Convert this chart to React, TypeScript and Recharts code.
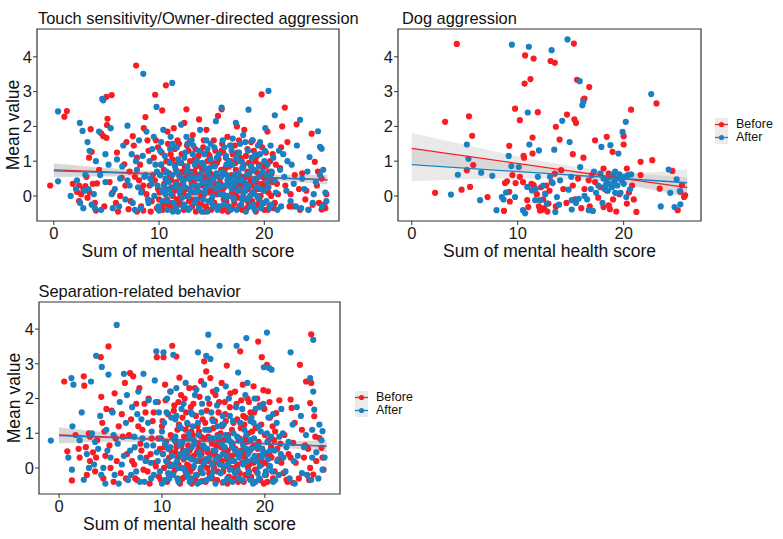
import React from "react";
import {
  Area,
  ComposedChart,
  Label,
  ReferenceArea,
  Scatter,
  XAxis,
  YAxis,
} from "recharts";

const FONT = "'Liberation Sans', Arial, sans-serif";
const RED = "#fb1b22";
const BLUE = "#1a80c2";
const BAND = "#9a9a9a";
const INK = "#1a1a1a";

const xTicks = [0, 10, 20];
const yTicks = [0, 1, 2, 3, 4];
const bandX = [0, 5, 10, 15, 20, 26];
const fitX = [0, 26];

type Pt = [number, number];

// ---- Touch sensitivity / Owner-directed aggression ----
const touchBefore: Pt[] = [
  [-0.35, 0.3], [1.0, 2.28], [1.24, 2.44], [1.8, 0.35], [2.2, 0.12], [2.4, 0.3], [2.6, 0.05], [2.8, 0.2],
  [3.0, 0.28], [3.2, -0.05], [3.4, 0.1], [3.35, 1.1], [3.5, 1.92], [3.6, 1.27], [3.9, -0.2], [4.0, -0.42],
  [4.1, 0.36], [4.5, 1.8], [4.7, 1.72], [5.0, 1.67], [5.0, 2.85], [5.5, 2.9], [5.05, 2.04], [5.1, 2.22],
  [5.6, 0.1], [5.9, -0.2], [6.1, -0.45], [6.45, 0.52], [6.7, 0.91], [6.9, 1.55], [7.1, -0.38], [7.2, 0.7],
  [7.5, 1.72], [7.6, 1.45], [7.82, 3.75], [7.9, 1.1], [8.1, 0.45], [8.3, -0.3], [8.55, 1.95], [8.7, 2.27],
  [8.5, 0.3], [8.5, -0.42], [8.8, 0.05], [9.0, 1.3], [9.2, -0.45], [9.4, 0.6], [9.63, 2.91], [9.7, 1.6],
  [9.9, 0.2], [10.0, -0.1], [10.3, 2.46], [10.2, 0.9], [10.5, 0.35], [10.65, 3.18], [10.8, 1.85], [10.9, -0.3],
  [11.0, 0.55], [11.1, 1.2], [11.3, 0.0], [11.4, 1.95], [11.5, -0.42], [11.6, 0.75], [11.8, 0.3], [11.9, 1.5],
  [12.0, -0.2], [12.1, 0.95], [12.3, 0.1], [12.4, 2.1], [12.5, 0.5], [12.6, 2.49], [12.7, -0.38], [12.8, 1.3],
  [12.9, 0.2], [13.0, 0.7], [13.1, -0.1], [13.2, 1.75], [13.3, 0.4], [13.4, 1.05], [13.5, -0.45], [13.6, 0.15],
  [13.7, 0.6], [13.8, 2.2], [13.9, 0.9], [14.0, -0.25], [14.1, 0.3], [14.2, 1.4], [14.3, 0.05], [14.4, 0.75],
  [14.5, 1.9], [14.6, -0.4], [14.7, 0.45], [14.8, 1.15], [14.9, 0.2], [15.0, -0.1], [15.1, 0.6], [15.2, 1.6],
  [15.3, 0.35], [15.4, -0.3], [15.5, 0.95], [15.6, 2.3], [15.7, 0.1], [15.8, 0.5], [15.95, 2.49], [16.0, -0.42],
  [16.1, 1.25], [16.2, 0.25], [16.3, 0.8], [16.4, -0.15], [16.5, 1.7], [16.6, 0.4], [16.7, 0.0], [16.8, 1.0],
  [16.9, 0.6], [17.0, -0.35], [17.1, 0.2], [17.2, 1.45], [17.3, 0.75], [17.4, 2.0], [17.5, -0.05], [17.6, 0.5],
  [17.7, 1.1], [17.8, 0.3], [17.9, -0.4], [18.0, 0.85], [18.1, 1.9], [18.2, 0.15], [18.3, 0.55], [18.4, 1.35],
  [18.5, -0.2], [18.6, 0.35], [18.7, 0.9], [18.8, 0.05], [18.9, 1.6], [19.0, 0.45], [19.1, -0.3], [19.2, 0.7],
  [19.3, 1.15], [19.4, 0.2], [19.5, -0.1], [19.6, 0.6], [19.75, 2.92], [19.8, 1.4], [19.9, 0.3], [20.0, -0.4],
  [20.1, 0.85], [20.3, 1.85], [20.4, 0.1], [20.6, 0.5], [20.8, 1.2], [21.0, -0.2], [21.2, 0.35], [21.5, 0.8],
  [21.7, 2.0], [21.95, 2.54], [22.2, 1.55], [22.5, 0.05], [22.8, -0.3], [23.07, 2.06], [23.3, 0.2], [23.6, 0.65],
  [23.9, -0.1], [24.2, -0.4], [24.5, 1.79], [24.8, 0.98], [25.0, 0.3], [25.2, -0.2], [25.45, 0.5], [25.45, -0.39],
  [25.7, -0.25], [25.9, 0.05],
  [10.1, 0.6], [10.4, -0.25], [10.7, 1.0], [11.2, 0.25], [11.7, -0.1], [12.2, 0.7], [12.6, 0.0], [13.1, 0.35],
  [13.5, 0.85], [13.9, 0.1], [14.3, -0.45], [14.6, 1.0], [15.1, 0.1], [15.5, 0.3], [15.9, 0.75], [16.3, -0.3],
  [16.6, 0.55], [17.0, 1.2], [17.3, 0.05], [17.7, 0.4], [18.1, -0.1], [18.4, 0.7], [18.8, 0.3], [19.2, -0.45],
  [19.5, 0.9], [19.9, 0.55], [20.2, 0.2], [20.5, -0.3], [11.5, 1.35], [12.9, 1.55], [14.0, 1.25], [16.0, 1.5],
  [17.6, 1.6], [19.0, 1.3], [20.7, 0.65],
  [8.2, 0.9], [8.4, 0.15], [8.9, 1.6], [9.1, 0.3], [9.3, -0.15], [9.5, 1.1], [9.6, 0.45], [9.8, -0.35],
  [9.9, 1.4], [10.05, 0.1], [10.25, 1.25], [10.35, -0.4], [10.45, 0.75], [10.6, 0.2], [10.75, -0.1], [10.85, 1.5],
  [10.95, 0.65], [11.05, -0.2], [11.15, 0.45], [11.25, 1.05], [11.35, -0.35], [11.45, 0.15], [11.55, 0.9], [11.65, 0.4],
  [11.75, 1.6], [11.85, -0.25], [11.95, 0.55], [12.05, 0.0], [12.15, 1.2], [12.25, 0.35], [12.35, -0.4], [12.45, 0.85],
  [12.55, 0.2], [12.65, 1.45], [12.75, 0.6], [12.85, -0.15], [12.95, 1.0], [13.05, 0.45], [13.15, -0.3], [13.25, 0.1],
  [13.35, 0.7], [13.45, 1.35], [13.55, 0.25], [13.65, -0.2], [13.75, 1.15], [13.85, 0.5], [13.95, -0.05], [14.05, 0.8],
  [14.15, 0.0], [14.25, 1.6], [14.35, 0.55], [14.45, -0.3], [14.55, 0.3], [14.65, 1.2], [14.75, 0.1], [14.85, 0.65],
  [14.95, -0.4], [15.05, 0.95], [15.15, 0.4], [15.25, -0.2], [15.35, 1.3], [15.45, 0.6], [15.55, 0.05], [15.65, 1.05],
  [15.75, -0.35], [15.85, 0.35], [15.95, 1.3], [16.05, 0.2], [16.15, -0.1], [16.25, 0.65], [16.35, 1.1], [16.45, 0.3],
  [16.55, -0.45], [16.65, 0.85], [16.75, 0.5], [16.85, 1.45], [16.95, 0.1], [17.05, 0.4], [17.15, -0.2], [17.25, 0.95],
  [17.35, 0.3], [17.45, 1.25], [17.55, 0.65], [17.65, -0.3], [17.75, 0.15], [17.85, 1.0], [17.95, 0.55], [18.05, -0.05],
  [18.15, 0.35], [18.25, 1.15], [18.35, -0.35], [18.45, 0.2], [18.55, 0.95], [18.65, 0.5], [18.75, 1.55], [18.85, -0.15],
  [18.95, 0.75], [19.05, 0.15], [19.15, 1.0], [19.25, 0.4], [19.35, -0.25], [19.45, 0.65], [19.55, 1.5], [19.65, 0.0],
  [19.75, 0.35], [19.85, 0.85], [19.95, -0.2], [20.05, 0.5], [20.15, 1.25], [20.25, 0.15], [20.35, -0.4], [20.45, 0.7],
  [20.55, 1.0], [20.65, 0.0], [20.75, 0.4], [20.9, -0.35], [21.1, 0.9], [21.3, 0.05], [21.6, 1.4], [22.0, 0.3],
  [22.4, -0.3], [22.9, 0.6], [23.4, -0.4], [24.0, 0.15], [24.6, -0.25], [25.1, 0.7], [25.8, -0.35], [3.7, 0.35],
  [4.3, 0.75], [4.8, -0.3], [5.3, 0.4], [6.0, 1.25], [6.3, 0.0], [6.8, 0.3], [7.3, -0.15], [7.7, 0.55],
  [7.9, -0.45], [2.4, -0.15], [3.1, 0.55],
];
const touchAfter: Pt[] = [
  [0.4, 2.43], [0.4, 0.42], [1.6, 0.0], [2.1, 0.2], [2.47, 2.1], [2.73, 1.87], [2.5, -0.2], [2.9, 0.15],
  [3.2, 1.55], [3.4, 1.3], [3.0, 0.6], [3.6, -0.25], [3.8, 0.05], [4.0, 1.0], [4.3, 1.85], [4.6, 2.79],
  [4.7, 2.75], [4.5, -0.4], [4.9, 0.4], [5.2, 0.9], [5.4, 1.95], [5.6, -0.35], [5.8, 0.2], [6.0, 1.05],
  [6.3, 0.5], [6.6, 1.45], [6.8, -0.1], [7.0, 2.02], [7.2, 0.3], [7.4, 1.2], [7.7, -0.4], [7.9, 0.75],
  [8.1, 1.6], [8.3, 0.1], [8.5, 3.51], [8.6, 0.55], [8.8, 1.85], [9.0, -0.2], [9.1, 1.0], [9.3, 0.35],
  [9.5, 1.7], [9.76, 2.56], [9.8, 0.7], [10.0, -0.42], [10.1, 1.3], [10.3, 0.15], [10.4, 1.9], [10.6, 0.5],
  [10.8, -0.15], [11.0, 0.95], [11.25, 3.25], [11.3, 1.5], [11.5, 0.25], [11.6, -0.35], [11.8, 1.05], [11.9, 0.6],
  [12.1, 2.05], [12.2, -0.05], [12.3, 0.4], [12.5, 1.25], [12.7, 0.85], [12.8, -0.4], [13.0, 0.15], [13.1, 1.6],
  [13.3, 0.55], [13.4, -0.2], [13.6, 1.0], [13.7, 0.3], [13.9, 1.9], [14.0, 0.65], [14.2, -0.1], [14.3, 1.2],
  [14.5, 0.4], [14.6, -0.45], [14.8, 0.8], [14.9, 1.5], [15.1, 0.0], [15.2, 0.5], [15.4, 2.15], [15.5, 1.1],
  [15.7, -0.3], [15.8, 0.25], [15.95, 2.54], [16.0, 0.7], [16.2, 1.4], [16.3, -0.05], [16.5, 0.45], [16.6, 1.0],
  [16.8, -0.4], [16.9, 0.2], [17.0, 1.65], [17.2, 0.6], [17.3, 2.1], [17.5, 0.15], [17.6, 1.25], [17.8, -0.25],
  [17.9, 0.8], [18.1, 0.4], [18.2, 1.55], [18.4, -0.1], [18.5, 2.48], [18.6, 0.65], [18.8, 1.1], [18.9, 0.1],
  [19.1, -0.4], [19.2, 0.5], [19.4, 1.45], [19.5, 0.85], [19.7, 0.2], [19.8, -0.2], [20.0, 1.0], [20.1, 1.95],
  [20.4, 3.02], [20.3, 0.4], [20.5, -0.35], [20.7, 0.7], [21.0, 2.32], [21.1, 0.1], [21.4, 1.3], [21.6, -0.3],
  [21.9, 0.55], [22.2, 1.0], [22.5, -0.15], [22.8, 0.35], [23.1, 1.45], [23.4, 2.19], [23.5, -0.35], [23.8, 0.2],
  [24.1, 0.7], [24.3, 1.12], [24.6, -0.2], [24.9, 0.4], [25.1, 1.86], [25.3, 1.41], [25.45, 1.36], [25.6, 0.75],
  [25.8, 0.1], [25.5, -0.3],
  [10.2, 0.9], [10.6, 0.05], [10.9, 0.4], [11.3, -0.45], [11.7, 0.7], [12.0, 0.2], [12.4, -0.25], [12.8, 0.5],
  [13.2, 1.2], [13.5, 0.1], [13.8, -0.35], [14.1, 0.95], [14.4, 0.2], [14.7, 0.6], [15.0, -0.2], [15.3, 0.85],
  [15.6, 0.35], [16.1, 0.05], [16.4, 0.9], [16.7, 0.3], [17.1, -0.1], [17.4, 0.45], [17.7, 1.0], [18.0, 0.0],
  [18.3, 0.25], [18.7, -0.3], [19.0, 0.75], [19.3, 0.0], [19.6, 1.2], [20.2, 0.6], [20.6, 1.45], [11.1, 1.7],
  [12.6, 1.7], [14.6, 1.35], [16.9, 1.3], [18.0, 1.75],
  [8.0, 0.25], [8.25, -0.35], [8.45, 1.15], [8.7, 0.6], [8.95, -0.1], [9.15, 0.5], [9.35, 1.35], [9.55, 0.0],
  [9.65, 0.9], [9.85, 0.3], [9.95, -0.3], [10.1, 0.6], [10.2, 1.55], [10.3, -0.15], [10.45, 0.3], [10.55, 1.15],
  [10.7, 0.7], [10.8, -0.4], [10.9, 0.2], [11.05, 1.35], [11.15, 0.05], [11.25, 0.6], [11.4, -0.2], [11.5, 0.85],
  [11.6, 0.35], [11.7, 1.4], [11.8, -0.45], [11.95, 0.1], [12.05, 0.95], [12.15, 0.5], [12.3, -0.3], [12.4, 1.1],
  [12.5, 0.25], [12.6, 0.7], [12.7, 1.5], [12.8, 0.0], [12.9, -0.35], [13.05, 0.65], [13.15, 0.3], [13.25, 1.45],
  [13.4, 0.9], [13.5, -0.1], [13.6, 0.5], [13.7, 0.15], [13.8, 1.3], [13.9, 0.55], [14.05, -0.45], [14.15, 0.4],
  [14.25, 0.85], [14.35, 0.1], [14.5, 1.6], [14.6, 0.7], [14.7, -0.15], [14.8, 0.3], [14.9, 1.05], [15.05, 0.45],
  [15.15, -0.3], [15.25, 1.4], [15.35, 0.2], [15.45, 0.65], [15.55, -0.4], [15.7, 1.2], [15.8, 0.05], [15.9, 0.55],
  [16.05, 1.6], [16.15, -0.25], [16.25, 0.3], [16.35, 1.15], [16.45, 0.6], [16.55, 0.0], [16.65, -0.3], [16.75, 1.45],
  [16.85, 0.45], [16.95, 0.9], [17.05, -0.05], [17.15, 0.35], [17.3, 1.1], [17.4, -0.4], [17.5, 0.65], [17.6, 0.2],
  [17.7, 1.5], [17.8, 0.45], [17.9, -0.1], [18.05, 0.9], [18.15, 0.15], [18.25, -0.45], [18.35, 0.6], [18.45, 1.3],
  [18.55, 0.3], [18.65, 0.0], [18.75, 0.85], [18.85, 1.6], [18.95, -0.25], [19.05, 0.45], [19.15, 1.2], [19.3, 0.25],
  [19.4, -0.05], [19.5, 0.55], [19.6, 1.55], [19.7, -0.35], [19.85, 0.7], [19.95, 0.15], [20.05, 1.3], [20.2, -0.15],
  [20.3, 0.9], [20.4, 0.25], [20.55, 0.55], [20.7, -0.25], [20.85, 1.1], [21.0, 0.45], [21.25, -0.4], [21.5, 0.75],
  [21.8, 1.2], [22.1, 0.15], [22.6, 0.9], [23.0, -0.3], [23.6, 0.5], [24.2, -0.4], [24.7, 0.05], [25.3, 0.6],
  [25.9, -0.15], [3.3, 0.2], [3.9, -0.35], [4.4, 0.6], [4.9, 1.2], [5.5, 0.05], [6.2, -0.3], [6.5, 0.85],
  [7.0, 0.45], [7.5, -0.2], [7.8, 1.0], [2.2, 0.45], [2.8, -0.35],
];
const touchFitBefore = [0.75, 0.46];
const touchFitAfter = [0.72, 0.47];
const touchBandBeforeLo = [0.55, 0.57, 0.57, 0.52, 0.45, 0.33];
const touchBandBeforeHi = [0.95, 0.81, 0.71, 0.64, 0.6, 0.6];
const touchBandAfterLo = [0.53, 0.56, 0.56, 0.53, 0.46, 0.34];
const touchBandAfterHi = [0.92, 0.8, 0.7, 0.64, 0.6, 0.61];

// ---- Dog aggression ----
const dogBefore: Pt[] = [
  [4.25, 4.37], [3.15, 2.13], [2.2, 0.09], [5.4, 2.29], [5.7, 1.73], [5.2, 0.74], [5.8, 0.89], [5.5, 0.26],
  [4.7, 0.18], [7.15, -0.03], [8.7, -0.43], [8.8, 0.37], [9.2, 1.44], [9.0, 0.42], [9.25, -0.16], [9.2, 0.12],
  [9.75, 2.51], [9.8, 0.37], [10.2, 2.18], [10.55, 1.15], [10.6, 1.1], [10.5, 0.4], [10.7, 4.04], [10.65, 3.23],
  [11.2, 3.36], [11.5, 3.95], [11.4, 1.68], [11.4, 1.22], [11.9, 2.41], [10.9, -0.12], [11.0, -0.32], [11.5, 0.31],
  [12.0, -0.3], [12.3, -0.4], [12.5, -0.35], [12.6, 0.07], [13.1, 3.88], [13.5, 3.83], [13.6, 1.99], [13.95, 1.62],
  [13.5, 0.64], [13.2, 0.4], [12.9, -0.22], [14.1, 0.74], [14.65, 2.34], [15.3, 4.38], [15.2, 1.2], [15.35, 2.2],
  [15.5, 2.1], [15.6, 3.34], [16.2, 2.77], [16.3, 2.8], [16.2, 1.1], [16.75, 3.13], [16.7, 0.45], [17.3, 1.6],
  [17.6, -0.05], [18.1, -0.32], [18.4, 1.7], [18.1, 0.79], [18.4, 0.16], [18.6, -0.27], [18.95, 1.27], [18.6, 0.64],
  [20.0, 1.72], [20.0, 1.48], [20.3, 0.79], [20.3, -0.22], [20.7, 2.48], [20.95, -0.1], [21.2, -0.46], [21.6, 0.98],
  [21.6, 0.6], [22.7, 1.03], [23.1, 2.66], [23.4, 0.21], [24.6, 0.72], [25.1, -0.41], [25.35, 0.12], [25.7, -0.03],
  [25.8, 0.02], [25.5, 0.31],
  [11.6, 0.2], [11.8, 0.05], [12.2, 0.25], [12.4, -0.1], [12.7, 0.3], [12.1, -0.42], [12.8, -0.45], [11.3, 0.35],
  [10.2, 0.55], [9.5, 0.6], [13.0, 0.15], [13.6, -0.3], [15.2, 0.3], [15.4, -0.1], [15.7, 0.5], [16.0, -0.35],
  [16.3, 0.2], [17.0, 0.6], [17.3, 0.4], [18.7, -0.38], [19.0, -0.1], [19.3, -0.45], [19.6, 0.05], [20.5, 0.1],
  [20.8, 0.3], [17.8, 0.25], [14.3, 0.2], [14.6, -0.2], [16.8, -0.3],
];
const dogAfter: Pt[] = [
  [3.7, 0.04], [4.35, 0.61], [5.2, 1.48], [5.35, 1.07], [6.45, -0.12], [6.55, 0.67], [7.6, 0.58], [8.0, -0.41],
  [8.5, -0.03], [8.65, -0.1], [8.9, 0.1], [9.15, 1.15], [9.45, 4.35], [9.4, 0.86], [10.1, 0.83], [9.75, -0.03],
  [10.5, -0.41], [10.7, -0.5], [10.9, 0.26], [10.95, 2.4], [11.05, 4.29], [11.1, 1.48], [11.35, 0.16], [11.65, -0.12],
  [11.7, 0.2], [12.0, 1.31], [12.1, -0.12], [12.75, -0.22], [13.05, 0.55], [13.2, 4.19], [13.3, 0.37], [13.45, 1.33],
  [13.55, -0.46], [13.7, -0.03], [14.2, 2.16], [14.8, 0.18], [14.9, 1.55], [14.7, 4.5], [15.05, 0.55], [15.1, -0.12],
  [15.1, -0.39], [15.75, -0.08], [15.85, 3.3], [15.9, 0.83], [16.1, 2.61], [16.2, 2.71], [16.55, -0.1], [16.7, -0.41],
  [17.1, -0.43], [17.4, 0.09], [17.9, 1.41], [17.8, 0.64], [18.1, 0.5], [18.3, 0.31], [18.5, 0.15], [18.75, 1.46],
  [19.2, 0.09], [19.5, 1.22], [19.7, 0.09], [19.9, 1.84], [20.2, 2.13], [20.25, -0.03], [20.4, 0.6], [20.6, 0.19],
  [22.6, 2.93], [23.5, -0.3], [24.25, 0.76], [24.4, 0.09], [25.0, 0.48], [24.8, -0.32], [25.35, -0.24], [25.3, 0.14],
  [18.4, 0.45], [18.6, 0.35], [18.8, 0.55], [18.9, 0.25], [19.0, 0.6], [19.1, 0.4], [19.3, 0.5], [19.4, 0.3],
  [19.6, 0.62], [19.8, 0.45], [20.0, 0.35], [20.1, 0.55], [18.2, 0.2], [17.6, 0.3], [16.9, 0.2], [16.3, 0.0],
  [15.5, -0.2], [14.0, 0.45], [12.4, 0.3], [11.9, 0.55], [17.2, 0.7], [20.7, 0.62], [19.2, 0.7], [18.0, -0.2],
  [13.9, -0.25], [12.6, 0.05],
];
const dogFitBefore = [1.37, 0.24];
const dogFitAfter = [0.9, 0.38];
const dogBandBeforeLo = [0.93, 0.83, 0.73, 0.58, 0.32, -0.05];
const dogBandBeforeHi = [1.81, 1.47, 1.14, 0.86, 0.68, 0.53];
const dogBandAfterLo = [0.42, 0.48, 0.5, 0.47, 0.34, 0.0];
const dogBandAfterHi = [1.38, 1.12, 0.9, 0.73, 0.66, 0.77];

// ---- Separation-related behavior ----
const sepBefore: Pt[] = [
  [0.5, 2.49], [0.8, 0.48], [1.25, -0.36], [1.6, 0.95], [2.0, 0.3], [2.4, 2.64], [2.45, 2.37], [2.6, 0.6],
  [2.9, 1.0], [3.0, 0.2], [3.3, 0.45], [3.5, -0.1], [3.7, 0.8], [4.05, 3.19], [4.1, 2.05], [4.2, 1.3],
  [4.3, -0.3], [4.5, 0.35], [4.6, 1.7], [4.8, 3.5], [4.9, 0.65], [5.1, 1.65], [5.3, -0.4], [5.4, 2.15],
  [5.6, 0.2], [5.8, 1.2], [6.0, -0.15], [6.2, 0.9], [6.4, 2.45], [6.6, 0.4], [6.9, 2.73], [7.0, 1.4],
  [7.2, 2.64], [7.3, 0.1], [7.5, 1.85], [7.6, -0.35], [7.8, 2.3], [7.9, 0.7], [8.1, 1.1], [8.2, -0.05],
  [8.4, 1.6], [8.5, 0.3], [8.7, 2.0], [8.8, -0.45], [9.0, 0.85], [9.1, 1.35], [9.3, 0.15], [9.5, 3.19],
  [9.6, 1.9], [9.7, -0.25], [9.8, 0.55], [10.0, 1.2], [10.15, 3.19], [10.2, 0.0], [10.3, 2.4], [10.4, 0.75],
  [10.5, -0.4], [10.6, 1.55], [10.7, 0.3], [10.8, 2.2], [11.0, 3.52], [11.0, 0.9], [11.1, -0.15], [11.2, 1.8],
  [11.3, 0.45], [11.4, 3.21], [11.5, 1.1], [11.6, 0.1], [11.7, 2.6], [11.8, -0.35], [11.9, 0.65], [12.0, 1.45],
  [12.1, 0.25], [12.2, 2.0], [12.3, -0.1], [12.4, 0.85], [12.5, 1.25], [12.6, 0.05], [12.7, 0.5], [12.8, 1.75],
  [12.9, -0.45], [13.0, 0.95], [13.1, 0.35], [13.2, 2.3], [13.3, 1.5], [13.4, -0.2], [13.5, 0.7], [13.6, 1.05],
  [13.7, 0.2], [13.8, 2.5], [13.9, -0.38], [14.0, 0.55], [14.1, 3.07], [14.2, 1.3], [14.3, 2.78], [14.4, 0.0],
  [14.5, 0.9], [14.6, 1.85], [14.7, 2.59], [14.8, 0.4], [14.9, -0.3], [15.0, 1.15], [15.1, 0.15], [15.2, 2.1],
  [15.3, 0.65], [15.4, -0.1], [15.5, 1.6], [15.6, 0.3], [15.7, 1.0], [15.8, 2.45], [15.9, -0.42], [16.0, 0.8],
  [16.1, 0.05], [16.2, 1.35], [16.3, 2.95], [16.4, 0.5], [16.5, -0.25], [16.6, 1.75], [16.7, 0.25], [16.8, 1.1],
  [16.9, 0.6], [17.0, -0.05], [17.1, 2.2], [17.2, 0.4], [17.3, 1.4], [17.4, -0.4], [17.5, 0.85], [17.6, 3.36],
  [17.7, 1.95], [17.8, 0.15], [17.9, 0.7], [18.0, 1.25], [18.1, -0.2], [18.2, 0.45], [18.3, 2.0], [18.4, 1.0],
  [18.5, 0.1], [18.6, 1.6], [18.7, -0.35], [18.8, 0.6], [18.9, 2.35], [19.0, 0.3], [19.1, 1.15], [19.2, -0.1],
  [19.35, 3.64], [19.4, 0.75], [19.5, 1.8], [19.6, 0.2], [19.7, 3.19], [19.85, 2.24], [19.9, -0.45], [20.0, 0.95],
  [20.1, 0.4], [20.2, 2.97], [20.3, 2.21], [20.4, 0.05], [20.5, 1.45], [20.6, 0.6], [20.8, -0.3], [21.0, 1.05],
  [21.1, 1.58], [21.3, 0.25], [21.5, 0.7], [21.8, -0.15], [22.1, -0.34], [22.3, 0.4], [22.5, 1.97], [22.6, 1.73],
  [22.75, 0.72], [22.75, -0.43], [23.0, 0.15], [23.4, 2.97], [23.6, 1.1], [23.8, 0.3], [24.0, 2.49], [24.2, 0.55],
  [24.4, 1.87], [24.4, 0.0], [24.5, 3.85], [24.5, 2.45], [24.7, -0.19], [24.8, 1.49], [25.0, 0.2], [25.3, 0.86],
  [25.5, 0.58], [25.7, -0.05],
  [10.1, 0.4], [10.9, 0.1], [11.4, 0.6], [12.0, -0.3], [12.5, 0.35], [13.0, 0.0], [13.4, 0.45], [13.8, 0.9],
  [14.2, 0.25], [14.6, -0.15], [15.0, 0.5], [15.4, 0.95], [15.8, 0.2], [16.3, -0.4], [16.8, 0.35], [17.3, 0.05],
  [17.7, 0.5], [18.1, 0.85], [18.5, -0.3], [18.9, 0.15], [19.3, 0.55], [19.7, 0.1], [20.1, -0.2], [20.5, 0.35],
  [20.9, 0.8], [12.3, 1.1], [14.9, 1.4], [17.9, 1.5], [11.6, 1.9], [16.1, 1.9],
  [7.1, 0.2], [7.4, -0.3], [7.7, 1.2], [8.0, 0.5], [8.3, 1.85], [8.6, -0.1], [8.9, 0.4], [9.2, 1.6],
  [9.4, 0.05], [9.65, 0.85], [9.9, -0.35], [10.05, 1.35], [10.25, 0.6], [10.35, 1.95], [10.55, 0.15], [10.65, -0.3],
  [10.85, 0.95], [10.95, 0.45], [11.15, 1.65], [11.25, -0.05], [11.35, 0.75], [11.55, 0.3], [11.65, 1.25], [11.75, -0.45],
  [11.85, 2.1], [12.05, 0.5], [12.15, 0.9], [12.25, -0.25], [12.35, 1.6], [12.45, 0.1], [12.55, 0.65], [12.65, 2.3],
  [12.75, -0.1], [12.85, 1.05], [12.95, 0.3], [13.05, 1.85], [13.15, 0.7], [13.25, -0.35], [13.35, 0.2], [13.45, 1.2],
  [13.55, 0.55], [13.65, 2.05], [13.75, -0.05], [13.85, 0.4], [13.95, 1.4], [14.05, 0.1], [14.15, 0.85], [14.25, -0.4],
  [14.35, 1.65], [14.45, 0.45], [14.55, 0.2], [14.65, 1.1], [14.75, -0.15], [14.85, 0.7], [14.95, 2.2], [15.05, 0.0],
  [15.15, 1.35], [15.25, 0.35], [15.35, -0.35], [15.45, 0.8], [15.55, 1.9], [15.65, 0.15], [15.75, 0.6], [15.85, 1.2],
  [15.95, -0.1], [16.05, 0.45], [16.15, 1.55], [16.25, 0.25], [16.35, -0.45], [16.45, 0.95], [16.55, 0.35], [16.65, 2.15],
  [16.75, 0.0], [16.85, 0.7], [16.95, 1.3], [17.05, -0.3], [17.15, 0.55], [17.25, 1.85], [17.35, 0.1], [17.45, 0.8],
  [17.55, -0.15], [17.65, 1.15], [17.75, 0.4], [17.85, 2.4], [17.95, -0.4], [18.05, 0.3], [18.15, 1.45], [18.25, 0.75],
  [18.35, 0.0], [18.45, 1.9], [18.55, 0.5], [18.65, -0.25], [18.75, 1.05], [18.85, 0.2], [18.95, 1.6], [19.05, -0.05],
  [19.15, 0.65], [19.25, 2.0], [19.45, 0.35], [19.55, -0.35], [19.65, 1.25], [19.75, 0.55], [19.95, 1.7], [20.05, 0.15],
  [20.25, -0.4], [20.35, 0.8], [20.45, 1.9], [20.65, 0.3], [20.75, 1.2], [20.95, -0.1], [21.2, 0.55], [21.4, 1.95],
  [21.6, 0.15], [21.9, 0.95], [22.2, -0.4], [22.5, 0.3], [22.9, 1.3], [23.3, -0.3], [23.9, 0.65], [24.3, -0.35],
  [24.9, 0.9], [25.6, 0.3], [3.0, 0.9], [3.6, 0.3], [4.4, 1.05], [5.0, 0.0], [5.5, 0.85], [6.1, 1.55],
  [6.5, -0.3], [6.8, 0.95], [1.9, 0.55], [2.7, -0.2],
];
const sepAfter: Pt[] = [
  [-0.8, 0.79], [1.2, 2.59], [1.25, -0.05], [1.4, 2.4], [1.3, 1.2], [2.0, 0.8], [2.4, -0.34], [2.7, 0.4],
  [3.1, 2.49], [3.2, 1.0], [3.4, 0.1], [3.6, 3.23], [3.8, 0.55], [4.0, 1.5], [4.15, 2.91], [4.3, 0.0],
  [4.5, -0.45], [4.6, 1.1], [4.8, 2.69], [5.0, 0.3], [5.2, 1.6], [5.4, -0.2], [5.6, 4.12], [5.7, 0.7],
  [5.9, 1.9], [6.1, 0.1], [6.3, 2.71], [6.5, 1.3], [6.7, -0.35], [6.9, 0.5], [7.1, 1.75], [7.3, 0.9],
  [7.5, -0.1], [7.7, 2.2], [7.9, 0.3], [8.0, 1.4], [8.2, 2.71], [8.3, -0.4], [8.5, 0.65], [8.7, 1.95],
  [8.9, 0.15], [9.0, 1.05], [9.2, -0.2], [9.3, 2.52], [9.45, 3.36], [9.5, 0.45], [9.7, 1.6], [9.9, 0.85],
  [10.0, -0.45], [10.15, 3.33], [10.2, 1.3], [10.4, 0.2], [10.5, 2.0], [10.6, -0.15], [10.8, 0.6], [10.9, 1.45],
  [11.1, 3.26], [11.2, 0.1], [11.3, 0.9], [11.4, 2.3], [11.5, -0.3], [11.7, 1.2], [11.8, 0.4], [11.9, 1.7],
  [12.0, 0.75], [12.2, -0.05], [12.3, 2.45], [12.4, 0.5], [12.6, 1.0], [12.7, -0.4], [12.8, 1.6], [12.9, 0.25],
  [13.1, 0.8], [13.2, 2.1], [13.3, -0.2], [13.5, 3.33], [13.5, 1.3], [13.6, 0.45], [13.8, 0.0], [13.9, 1.85],
  [14.0, 0.65], [14.1, 2.4], [14.3, 3.23], [14.3, -0.35], [14.5, 3.84], [14.5, 1.1], [14.6, 0.3], [14.7, 3.14],
  [14.8, 1.6], [14.9, 0.85], [15.0, -0.1], [15.2, 0.5], [15.3, 2.25], [15.4, 1.2], [15.6, 3.52], [15.6, 0.1],
  [15.8, 0.7], [15.9, 1.5], [16.0, -0.4], [16.2, 0.95], [16.3, 0.35], [16.5, 2.0], [16.6, -0.05], [16.8, 0.6],
  [16.9, 1.35], [17.0, 0.2], [17.25, 3.52], [17.3, 0.9], [17.4, 2.75], [17.5, -0.3], [17.6, 0.45], [17.8, 1.7],
  [17.9, 0.1], [18.0, 1.1], [18.2, 3.74], [18.2, 0.55], [18.3, 2.45], [18.4, -0.15], [18.6, 0.8], [18.7, 1.45],
  [18.8, 0.25], [19.0, 2.0], [19.1, -0.4], [19.2, 0.6], [19.4, 1.2], [19.5, 0.05], [19.6, 1.75], [19.8, 0.4],
  [19.9, 2.9], [20.0, -0.2], [20.2, 3.9], [20.2, 1.0], [20.4, 2.88], [20.5, 0.5], [20.65, 2.83], [20.8, 1.55],
  [21.0, -0.35], [21.2, 0.2], [21.4, 0.9], [21.6, 1.7], [21.8, 0.3], [22.0, -0.1], [22.3, 0.75], [22.5, 3.33],
  [22.7, 1.25], [22.9, -0.45], [23.2, 0.35], [23.5, 1.5], [23.8, 0.6], [24.1, -0.2], [24.4, 2.59], [24.5, -0.34],
  [24.6, 1.1], [24.7, 2.2], [24.7, 3.69], [24.8, 1.68], [25.0, 0.45], [25.3, 1.25], [25.6, 1.06], [25.6, -0.05],
  [25.8, 0.3],
  [10.3, 0.7], [10.7, -0.3], [11.0, 0.35], [11.6, 0.0], [12.1, 0.3], [12.5, -0.25], [12.9, 0.6], [13.3, 0.2],
  [13.7, -0.4], [14.1, 0.15], [14.4, 0.55], [14.8, -0.25], [15.2, 0.25], [15.5, 0.9], [15.9, 0.4], [16.4, 0.1],
  [16.7, 0.75], [17.1, -0.15], [17.5, 0.3], [17.9, 0.65], [18.3, 0.2], [18.6, -0.35], [19.0, 0.35], [19.3, -0.15],
  [19.7, 0.55], [20.3, 0.25], [20.7, -0.1], [11.4, 1.5], [13.0, 1.2], [16.0, 1.25], [18.9, 1.3],
  [7.0, -0.2], [7.35, 0.6], [7.6, 1.55], [7.85, -0.4], [8.1, 0.85], [8.4, 0.2], [8.65, 1.3], [8.95, -0.3],
  [9.15, 0.65], [9.4, 1.9], [9.6, 0.2], [9.8, -0.1], [10.0, 1.05], [10.1, 0.4], [10.3, -0.35], [10.45, 1.6],
  [10.6, 0.55], [10.75, 0.05], [10.85, 2.2], [11.05, -0.2], [11.2, 0.8], [11.3, 1.4], [11.45, 0.2], [11.6, -0.4],
  [11.7, 0.65], [11.85, 1.15], [11.95, 0.0], [12.1, 1.85], [12.2, 0.45], [12.35, -0.15], [12.45, 1.3], [12.6, 0.3],
  [12.7, 0.85], [12.85, -0.3], [12.95, 1.55], [13.1, 0.05], [13.2, 0.7], [13.35, 2.25], [13.45, -0.45], [13.55, 0.95],
  [13.7, 0.35], [13.85, 1.6], [13.95, -0.15], [14.1, 0.6], [14.2, 1.1], [14.35, 0.25], [14.45, 2.0], [14.6, -0.3],
  [14.7, 0.85], [14.85, 0.1], [14.95, 1.35], [15.1, 0.5], [15.2, -0.45], [15.35, 1.8], [15.45, 0.3], [15.6, 0.9],
  [15.7, -0.15], [15.85, 1.25], [15.95, 0.05], [16.1, 0.6], [16.2, 2.35], [16.35, -0.3], [16.45, 0.85], [16.6, 1.5],
  [16.7, 0.2], [16.85, -0.4], [16.95, 1.0], [17.1, 0.5], [17.2, 1.75], [17.35, -0.05], [17.45, 0.35], [17.6, 1.3],
  [17.7, 0.8], [17.85, -0.35], [17.95, 0.15], [18.1, 2.1], [18.2, 0.95], [18.35, 0.4], [18.45, -0.1], [18.6, 1.35],
  [18.7, 0.55], [18.85, -0.45], [18.95, 0.85], [19.1, 1.7], [19.2, 0.2], [19.35, 0.65], [19.45, -0.3], [19.6, 1.05],
  [19.7, 0.3], [19.85, 1.85], [19.95, 0.45], [20.1, -0.1], [20.25, 0.75], [20.35, 1.45], [20.5, 0.05], [20.6, 0.9],
  [20.8, -0.4], [20.95, 0.5], [21.15, 1.3], [21.35, -0.2], [21.55, 0.4], [21.75, 1.0], [22.1, 0.6], [22.4, -0.3],
  [22.8, 0.2], [23.1, 1.75], [23.6, -0.15], [24.0, 0.95], [24.6, 0.3], [25.2, -0.3], [25.5, 0.8], [2.2, 1.6],
  [2.9, 0.0], [3.5, 0.75], [4.1, -0.2], [4.7, 0.5], [5.3, 0.95], [5.8, -0.45], [6.3, 0.35], [6.6, 2.1],
  [0.9, 0.3],
];
const sepFitBefore = [0.95, 0.63];
const sepFitAfter = [0.93, 0.63];
const sepBandBeforeLo = [0.72, 0.76, 0.76, 0.7, 0.63, 0.46];
const sepBandBeforeHi = [1.18, 1.02, 0.91, 0.82, 0.77, 0.8];
const sepBandAfterLo = [0.7, 0.75, 0.75, 0.7, 0.63, 0.46];
const sepBandAfterHi = [1.16, 1.0, 0.89, 0.81, 0.76, 0.8];

const toRows = (pts: Pt[]) => pts.map(([x, y]) => ({ x, y }));
const fitRows = (ys: number[]) => fitX.map((x, i) => ({ x, y: ys[i] }));
const bandRows = (bLo: number[], bHi: number[], aLo: number[], aHi: number[]) =>
  bandX.map((x, i) => ({ x, before: [bLo[i], bHi[i]], after: [aLo[i], aHi[i]] }));

const dot = (color: string) => (p: any) => (
  <circle cx={p.cx} cy={p.cy} r={3.1} fill={color} />
);
const noDot = () => <g />;

type PanelProps = {
  left: number;
  top: number;
  marginLeft: number;
  marginRight: number;
  xDomain: [number, number];
  yDomain: [number, number];
  before: Pt[];
  after: Pt[];
  fitBefore: number[];
  fitAfter: number[];
  band: { x: number; before: number[]; after: number[] }[];
  yLabel?: boolean;
  yLabelOffset?: number;
  title: string;
  titleLeft: number;
};

function Panel(p: PanelProps) {
  const tickStyle = { fontSize: 16.5, fill: INK, fontFamily: FONT };
  const titleStyle = { fontSize: 17.5, fill: "#111", fontFamily: FONT };
  return (
    <>
      <div
        style={{
          position: "absolute",
          left: p.titleLeft,
          top: p.top + 10,
          fontFamily: FONT,
          fontSize: 16.4,
          lineHeight: "16px",
          color: "#111",
          whiteSpace: "nowrap",
        }}
      >
        {p.title}
      </div>
      <div style={{ position: "absolute", left: p.left, top: p.top }}>
        <ComposedChart
          width={345}
          height={266}
          data={p.band}
          margin={{ top: 29, right: p.marginRight, bottom: 0, left: p.marginLeft }}
        >
          <XAxis
            dataKey="x"
            type="number"
            domain={p.xDomain}
            allowDataOverflow
            ticks={xTicks}
            tick={tickStyle}
            tickSize={4}
            tickMargin={2}
            tickLine={{ stroke: "#333" }}
            axisLine={false}
            height={45}
          >
            <Label value="Sum of mental health score" position="insideBottom" offset={9} style={titleStyle} />
          </XAxis>
          <YAxis
            type="number"
            domain={p.yDomain}
            allowDataOverflow
            ticks={yTicks}
            tick={tickStyle}
            tickSize={4}
            tickMargin={1}
            tickLine={{ stroke: "#333" }}
            axisLine={false}
            width={37}
          >
            {p.yLabel && (
              <Label
                value="Mean value"
                angle={-90}
                position="insideLeft"
                offset={p.yLabelOffset ?? 13}
                style={{ ...titleStyle, textAnchor: "middle" }}
              />
            )}
          </YAxis>
          <Scatter data={toRows(p.before)} dataKey="y" shape={dot(RED)} isAnimationActive={false} />
          <Scatter data={toRows(p.after)} dataKey="y" shape={dot(BLUE)} isAnimationActive={false} />
          <Area
            dataKey="before"
            type="monotone"
            stroke="none"
            fill={BAND}
            fillOpacity={0.22}
            isAnimationActive={false}
          />
          <Area
            dataKey="after"
            type="monotone"
            stroke="none"
            fill={BAND}
            fillOpacity={0.22}
            isAnimationActive={false}
          />
          <Scatter
            data={fitRows(p.fitBefore)}
            dataKey="y"
            shape={noDot}
            line={{ stroke: RED, strokeWidth: 1.3 }}
            isAnimationActive={false}
          />
          <Scatter
            data={fitRows(p.fitAfter)}
            dataKey="y"
            shape={noDot}
            line={{ stroke: BLUE, strokeWidth: 1.3 }}
            isAnimationActive={false}
          />
          <ReferenceArea
            x1={p.xDomain[0]}
            x2={p.xDomain[1]}
            y1={p.yDomain[0]}
            y2={p.yDomain[1]}
            fill="none"
            stroke="#333"
            strokeWidth={1.2}
          />
        </ComposedChart>
      </div>
    </>
  );
}

const legendItems = [
  { name: "Before", color: RED },
  { name: "After", color: BLUE },
];

function KeyLegend({ left, top }: { left: number; top: number }) {
  return (
    <div style={{ position: "absolute", left, top, fontFamily: FONT, fontSize: 12.5, color: "#111" }}>
      {legendItems.map((it) => (
        <div key={it.name} style={{ display: "flex", alignItems: "center", height: 13 }}>
          <svg width={13} height={13} style={{ display: "block" }}>
            <rect x={0} y={0} width={13} height={13} fill="#ebebeb" />
            <line x1={0} y1={6.5} x2={13} y2={6.5} stroke={it.color} strokeWidth={1.3} />
            <circle cx={6.5} cy={6.5} r={2.6} fill={it.color} />
          </svg>
          <span style={{ marginLeft: 8, lineHeight: "13px" }}>{it.name}</span>
        </div>
      ))}
    </div>
  );
}

export default function App() {
  return (
    <div
      style={{
        position: "absolute",
        left: 0,
        top: 0,
        width: 783,
        height: 539,
        background: "#fff",
        overflow: "hidden",
      }}
    >
      <Panel
        left={0}
        top={0}
        marginLeft={0}
        marginRight={6}
        xDomain={[-1.6, 27.1]}
        yDomain={[-0.72, 4.8]}
        before={touchBefore}
        after={touchAfter}
        fitBefore={touchFitBefore}
        fitAfter={touchFitAfter}
        band={bandRows(touchBandBeforeLo, touchBandBeforeHi, touchBandAfterLo, touchBandAfterHi)}
        yLabel
        yLabelOffset={13}
        title="Touch sensitivity/Owner-directed aggression"
        titleLeft={38}
      />
      <Panel
        left={361}
        top={0}
        marginLeft={0}
        marginRight={5}
        xDomain={[-1.3, 27.3]}
        yDomain={[-0.72, 4.8]}
        before={dogBefore}
        after={dogAfter}
        fitBefore={dogFitBefore}
        fitAfter={dogFitAfter}
        band={bandRows(dogBandBeforeLo, dogBandBeforeHi, dogBandAfterLo, dogBandAfterHi)}
        title="Dog aggression"
        titleLeft={402}
      />
      <Panel
        left={0}
        top={273}
        marginLeft={2}
        marginRight={5}
        xDomain={[-1.95, 27.3]}
        yDomain={[-0.75, 4.78]}
        before={sepBefore}
        after={sepAfter}
        fitBefore={sepFitBefore}
        fitAfter={sepFitAfter}
        band={bandRows(sepBandBeforeLo, sepBandBeforeHi, sepBandAfterLo, sepBandAfterHi)}
        yLabel
        yLabelOffset={11.5}
        title="Separation-related behavior"
        titleLeft={38.5}
      />
      <KeyLegend left={715} top={117.5} />
      <KeyLegend left={355} top={390.5} />
    </div>
  );
}
